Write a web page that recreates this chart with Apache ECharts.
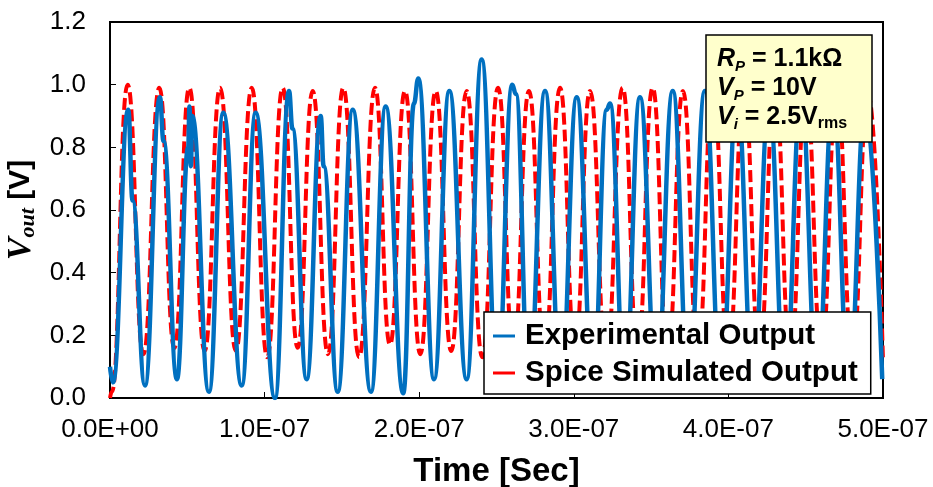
<!DOCTYPE html>
<html>
<head>
<meta charset="utf-8">
<script src="https://cdn.jsdelivr.net/npm/echarts@6/dist/echarts.min.js"></script>
<style>
html,body{margin:0;padding:0;background:#fff;}
#chart{width:933px;height:487px;}
</style>
</head>
<body>
<div id="chart"></div>
<script>
// ---- data (time in ns, Vout in V) ----
const xTickLabels = ['0.0E+00','1.0E-07','2.0E-07','3.0E-07','4.0E-07','5.0E-07'];
const yTickLabels = ['0.0','0.2','0.4','0.6','0.8','1.0','1.2'];

const seriesNames = ['Experimental Output','Spice Simulated Output'];

const spiceTimeNs = [0,1.2,11.4,21.6,31.9,41.6,51.3,61.2,71.2,81.4,91.7,101.7,111.7,121.4,131.1,141.0,150.9,161.1,171.4,181.1,190.8,200.7,210.7,220.7,230.7,240.8,251.0,261.0,271.0,281.0,291.1,300.8,310.5,321.0,331.6,341.3,351.0,360.8,370.6,380.3,390.0,400.0,410.1,420.1,430.1,440.1,450.2,460.2,470.2,480.2,490.3,500];
const spiceVout   = [0.00,0.02,1.00,0.14,0.99,0.16,0.99,0.15,0.99,0.15,0.99,0.13,0.99,0.16,0.98,0.14,0.99,0.13,0.99,0.17,0.98,0.14,0.98,0.15,0.98,0.13,0.99,0.15,0.98,0.14,0.99,0.16,0.98,0.13,0.99,0.15,0.99,0.14,0.98,0.15,0.99,0.14,0.98,0.15,0.99,0.14,0.98,0.15,0.98,0.14,0.97,0.12];

const expTimeNs = [0,1.9,11.8,14.6,22.6,32.3,34.6,43.3,50.6,51.4,52.3,53.2,64.0,73.3,85.2,94.2,106.7,115.8,118.0,127.2,136.3,138.2,147.3,157.0,168.8,178.3,189.7,196.6,199.4,209.6,219.5,230.7,240.4,250.5,260.2,262.5,271.0,281.4,291.7,301.9,312.5,321.3,323.4,333.0,342.8,353.5,364.0,374.4,384.8,395.2,405.6,416.0,426.3,436.6,447.0,457.4,467.7,478.0,488.4,499.5];
const expVout   = [0.10,0.05,0.92,0.63,0.04,0.96,0.82,0.06,0.80,0.93,0.74,0.90,0.02,0.91,0.04,0.91,0.00,0.98,0.86,0.06,0.90,0.74,0.02,0.92,0.02,0.93,0.015,0.94,1.02,0.06,0.98,0.06,1.08,0.04,1.00,0.97,0.04,0.98,0.04,0.96,0.04,0.92,0.94,0.04,0.96,0.04,0.98,0.04,0.98,0.04,0.96,0.05,0.94,0.04,0.96,0.05,0.95,0.04,0.93,0.06];

const annotLines = [
  '{vi|R}{sub|P}{b| = 1.1kΩ}',
  '{vi|V}{sub|P}{b| = 10V}',
  '{vi|V}{sub|i}{b| = 2.5V}{rms|rms}'
];

// ---- build ----
const zip = (t, v) => t.map((x, i) => [x, v[i]]);
const chart = echarts.init(document.getElementById('chart'), null, {renderer: 'canvas'});
const SANS = 'Liberation Sans, Arial, sans-serif';
const SERIF = 'Liberation Serif, Times New Roman, serif';

const option = {
  animation: false,
  backgroundColor: '#fff',
  grid: {left: 110, right: 50, top: 22, bottom: 89, containLabel: false, outerBoundsMode: 'none',
    show: true, borderColor: '#000', borderWidth: 2, backgroundColor: 'transparent'},
  xAxis: {
    type: 'value', min: 0, max: 500, interval: 100,
    axisLine: {show: true, lineStyle: {color: '#000', width: 2}},
    axisTick: {show: true, inside: true, length: 6, lineStyle: {color: '#000', width: 1}},
    splitLine: {show: false},
    axisLabel: {color: '#000', fontFamily: SANS, fontSize: 26, margin: 19, hideOverlap: false,
      formatter: v => xTickLabels[Math.round(v / 100)]},
    name: 'Time [Sec]', nameLocation: 'middle', nameGap: 57,
    nameTextStyle: {color: '#000', fontFamily: SANS, fontSize: 33, fontWeight: 'bold'}
  },
  yAxis: {
    type: 'value', min: 0, max: 1.2, interval: 0.2,
    axisLine: {show: true, lineStyle: {color: '#000', width: 2}},
    axisTick: {show: true, inside: true, length: 6, lineStyle: {color: '#000', width: 1}},
    splitLine: {show: false},
    axisLabel: {color: '#000', fontFamily: SANS, fontSize: 26, margin: 24,
      formatter: v => yTickLabels[Math.round(v / 0.2)]},
    name: '{v|V}{o|out}{b| [V]}', nameLocation: 'middle', nameGap: 70, nameRotate: 90,
    nameTextStyle: {
      color: '#000',
      rich: {
        v: {fontFamily: SERIF, fontStyle: 'italic', fontWeight: 'bold', fontSize: 34, color: '#000', lineHeight: 36, verticalAlign: 'middle'},
        o: {fontFamily: SERIF, fontStyle: 'italic', fontWeight: 'bold', fontSize: 22, color: '#000', lineHeight: 22, verticalAlign: 'bottom'},
        b: {fontFamily: SANS, fontWeight: 'bold', fontSize: 30, color: '#000', lineHeight: 36, verticalAlign: 'middle'}
      }
    }
  },
  legend: {
    data: seriesNames,
    orient: 'vertical',
    left: 484, top: 312,
    backgroundColor: '#fff', borderColor: '#000', borderWidth: 1.5,
    padding: [9, 13, 6, 9],
    itemGap: 7, itemWidth: 22, itemHeight: 3, icon: 'rect',
    textStyle: {color: '#000', fontFamily: SANS, fontSize: 29.5, fontWeight: 'bold', padding: [0, 0, 0, 5], lineHeight: 28}
  },
  series: [
    {
      name: seriesNames[1], type: 'line', data: zip(spiceTimeNs, spiceVout),
      showSymbol: false, symbol: 'none', smooth: 0.5, smoothMonotone: 'x',
      color: '#FF0000',
      lineStyle: {color: '#FF0000', width: 4, type: [12, 5]},
      z: 2
    },
    {
      name: seriesNames[0], type: 'line', data: zip(expTimeNs, expVout),
      showSymbol: false, symbol: 'none', smooth: 0.45, smoothMonotone: 'x',
      color: '#0070C0',
      lineStyle: {color: '#0070C0', width: 4.5},
      z: 3
    }
  ],
  graphic: {
    elements: [
      {type: 'rect', z: 100, shape: {x: 706, y: 35, width: 166, height: 107},
        style: {fill: '#FFFFCC', stroke: '#000', lineWidth: 1.5}},
      {
        type: 'text', z: 101, x: 717, y: 45,
        style: {
          text: annotLines.join('\n'),
          fill: '#000',
          rich: {
            vi: {fontFamily: SANS, fontStyle: 'italic', fontWeight: 'bold', fontSize: 25, lineHeight: 29, verticalAlign: 'middle', fill: '#000'},
            sub: {fontFamily: SANS, fontStyle: 'italic', fontWeight: 'bold', fontSize: 15, lineHeight: 15, verticalAlign: 'bottom', fill: '#000'},
            b: {fontFamily: SANS, fontWeight: 'bold', fontSize: 25, lineHeight: 29, verticalAlign: 'middle', fill: '#000'},
            rms: {fontFamily: SANS, fontWeight: 'bold', fontSize: 16, lineHeight: 16, verticalAlign: 'bottom', fill: '#000'}
          }
        }
      }
    ]
  }
};
chart.setOption(option);
</script>
</body>
</html>
